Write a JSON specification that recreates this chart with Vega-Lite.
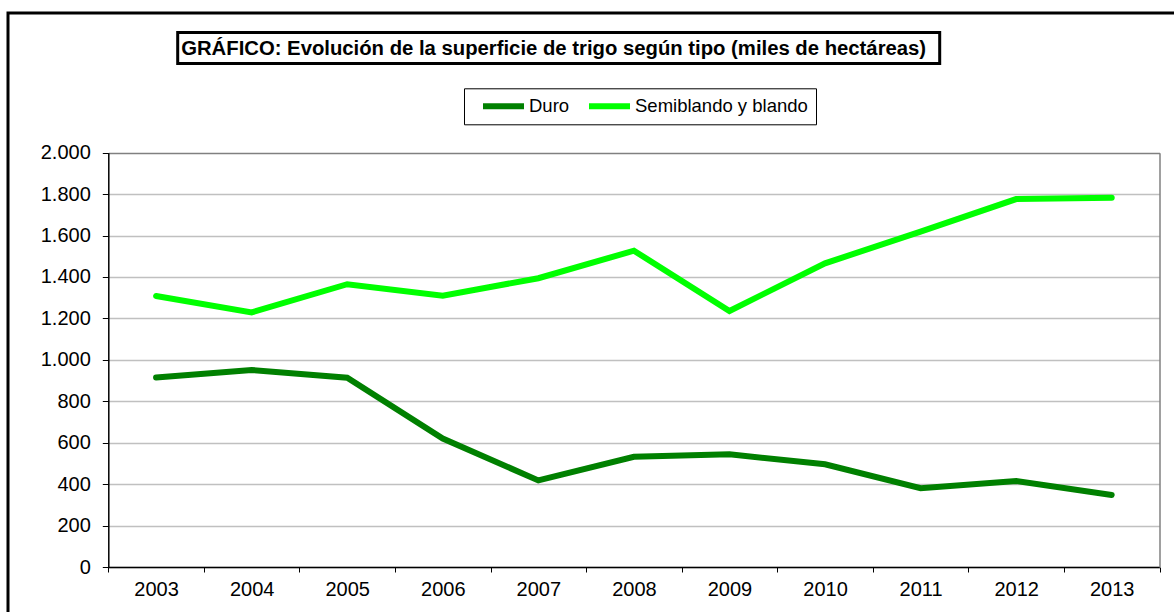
{
  "$schema": "https://vega.github.io/schema/vega-lite/v6.json",
  "autosize": {"type": "none"},
  "padding": {"left": 8, "top": 13, "right": -6, "bottom": -6},
  "width": 1172,
  "height": 605,
  "background": "white",
  "config": {
    "view": {"stroke": "#000000", "strokeWidth": 3},
    "font": "Liberation Sans",
    "legend": {"strokeWidth": 3},
    "locale": {"number": {"decimal": ",", "thousands": ".", "grouping": [3], "currency": ["", " €"]}}
  },
  "data": {
    "values": [
      {"year": "2003", "tipo": "Duro", "value": 915},
      {"year": "2004", "tipo": "Duro", "value": 951},
      {"year": "2005", "tipo": "Duro", "value": 914},
      {"year": "2006", "tipo": "Duro", "value": 620},
      {"year": "2007", "tipo": "Duro", "value": 418},
      {"year": "2008", "tipo": "Duro", "value": 532},
      {"year": "2009", "tipo": "Duro", "value": 544},
      {"year": "2010", "tipo": "Duro", "value": 496},
      {"year": "2011", "tipo": "Duro", "value": 380},
      {"year": "2012", "tipo": "Duro", "value": 415},
      {"year": "2013", "tipo": "Duro", "value": 348},
      {"year": "2003", "tipo": "Semiblando y blando", "value": 1308},
      {"year": "2004", "tipo": "Semiblando y blando", "value": 1229},
      {"year": "2005", "tipo": "Semiblando y blando", "value": 1365},
      {"year": "2006", "tipo": "Semiblando y blando", "value": 1310},
      {"year": "2007", "tipo": "Semiblando y blando", "value": 1394},
      {"year": "2008", "tipo": "Semiblando y blando", "value": 1527},
      {"year": "2009", "tipo": "Semiblando y blando", "value": 1236},
      {"year": "2010", "tipo": "Semiblando y blando", "value": 1466},
      {"year": "2011", "tipo": "Semiblando y blando", "value": 1619},
      {"year": "2012", "tipo": "Semiblando y blando", "value": 1776},
      {"year": "2013", "tipo": "Semiblando y blando", "value": 1783}
    ]
  },
  "resolve": {"axis": {"y": "independent"}},
  "layer": [
    {
      "mark": {"type": "line", "strokeWidth": 6, "strokeCap": "round", "strokeJoin": "miter"},
      "encoding": {
        "x": {
          "field": "year", "type": "nominal", "bandPosition": 0.5,
          "scale": {"type": "band", "paddingInner": 0, "paddingOuter": 0, "range": [{"expr": "100.3"}, {"expr": "1151.5"}]},
          "axis": {
            "title": null, "orient": "bottom", "offset": -51, "tickBand": "extent",
            "labelAngle": 0, "labelFontSize": 20, "labelColor": "#000000", "labelPadding": 7,
            "tickSize": 5, "tickColor": "#000000", "domainColor": "#000000", "domainWidth": 1.5,
            "grid": false
          }
        },
        "y": {
          "field": "value", "type": "quantitative",
          "scale": {"domain": [0, 2000], "nice": false, "zero": true, "range": [554, 139.7]},
          "axis": {
            "title": null, "orient": "left", "offset": -100.3, "values": [0, 200, 400, 600, 800, 1000, 1200, 1400, 1600, 1800, 2000],
            "format": ",d", "labelFontSize": 20, "labelColor": "#000000", "labelPadding": 12,
            "tickSize": 6, "tickColor": "#000000", "domainColor": "#000000", "domainWidth": 1.5,
            "grid": true, "gridWidth": 1.5,
            "gridColor": {"condition": {"test": "datum.value === 2000", "value": "#808080"}, "value": "#c0c0c0"}
          }
        },
        "color": {
          "field": "tipo", "type": "nominal",
          "scale": {"domain": ["Duro", "Semiblando y blando"], "range": ["#008000", "#00ff00"]},
          "legend": {
            "title": "\u00a0", "titleOrient": "left", "titlePadding": 8, "titleFontSize": 18.5,
            "orient": "none", "legendX": 456, "legendY": 75.3, "direction": "horizontal",
            "strokeColor": "#000000", "padding": 8, "fillColor": "white", "clipHeight": 20,
            "symbolType": "stroke", "symbolSize": 1681, "symbolStrokeWidth": 6,
            "labelFontSize": 18.5, "labelColor": "#000000", "labelOffset": 2, "columnPadding": 16, "labelLimit": 400,
            "encode": {"legend": {"update": {"strokeWidth": {"value": 1}}}}
          }
        }
      }
    },
    {
      "mark": {"type": "point", "opacity": 0},
      "encoding": {
        "y": {
          "field": "value", "type": "quantitative",
          "axis": {"orient": "right", "offset": -20.5, "labels": false, "ticks": false, "grid": false, "title": null, "domainColor": "#808080", "domainWidth": 1.5}
        },
        "shape": {
          "datum": "t",
          "legend": {
            "title": "GRÁFICO: Evolución de la superficie de trigo según tipo (miles de hectáreas)",
            "orient": "none", "legendX": 169.7, "legendY": 19.5, "titleOrient": "left",
            "titleFontSize": 20.3, "titleFontWeight": "bold", "titleColor": "#000000", "titlePadding": 0,
            "titleLimit": 2000, "titleBaseline": "top",
            "strokeColor": "#000000", "padding": 3.5, "fillColor": "white",
            "symbolSize": 0, "symbolStrokeWidth": 0, "symbolOpacity": 0,
            "labelExpr": "''", "labelFontSize": 0, "labelOffset": 0, "columnPadding": 0, "rowPadding": 0
          }
        }
      }
    }
  ]
}
